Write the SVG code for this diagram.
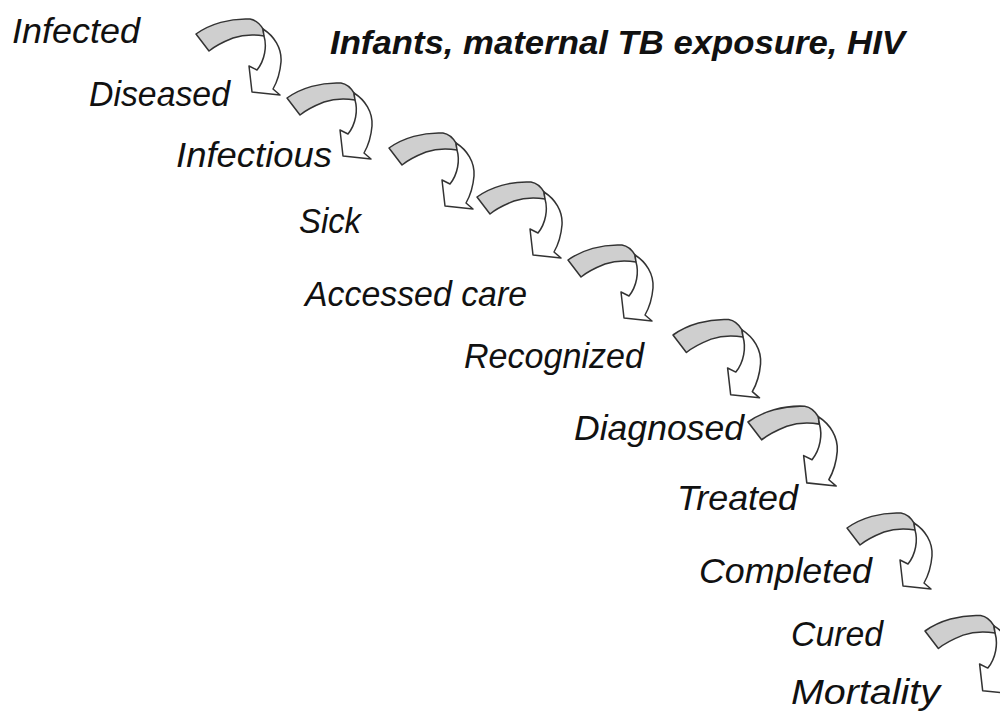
<svg xmlns="http://www.w3.org/2000/svg" xmlns:xlink="http://www.w3.org/1999/xlink" width="1000" height="715" viewBox="0 0 1000 715">
<style>
.lbl{font-family:"Liberation Sans",Arial,sans-serif;font-style:italic;font-size:35px;fill:#111}
.ttl{font-family:"Liberation Sans",Arial,sans-serif;font-style:italic;font-weight:bold;font-size:34px;fill:#111}
.back{fill:#cfcfcf;stroke:#333;stroke-width:1.5;stroke-linejoin:round}
.front{fill:#fff;stroke:#333;stroke-width:1.5;stroke-linejoin:round}
</style>
<defs>
<g id="curved-arrow">
<path class="back" d="M0,0 C14,-10 34,-16 54,-15 C60,-14 64,-10 67,-5 L68,2 C56,0 46,1 37,4 C27,8 19,12 13,17 Z"/>
<path class="front" d="M67,-5 C78,2 86,14 85,28 C84,40 81,48 77,55 L84,61 L56,58 L53,32 L61,36 C69,26 71,12 68,2 Z"/>
</g>
</defs>
<rect width="1000" height="715" fill="#fff"/>
<g id="connectors">
<use id="arrow1" xlink:href="#curved-arrow" transform="translate(196,34)"/>
<use id="arrow2" xlink:href="#curved-arrow" transform="translate(287,98)"/>
<use id="arrow3" xlink:href="#curved-arrow" transform="translate(389,148)"/>
<use id="arrow4" xlink:href="#curved-arrow" transform="translate(477,197)"/>
<use id="arrow5" xlink:href="#curved-arrow" transform="translate(568,260)"/>
<use id="arrow6" xlink:href="#curved-arrow" transform="translate(673,335) scale(1.03)"/>
<use id="arrow7" xlink:href="#curved-arrow" transform="translate(748,422) scale(1.05)"/>
<use id="arrow8" xlink:href="#curved-arrow" transform="translate(847,528)"/>
<use id="arrow9" xlink:href="#curved-arrow" transform="translate(925,631) scale(1.03)"/>
</g>
<g id="title"><text class="ttl" x="330" y="54" textLength="575" lengthAdjust="spacingAndGlyphs">Infants, maternal TB exposure, HIV</text></g>
<g id="infected"><text class="lbl" x="12" y="43" textLength="128" lengthAdjust="spacingAndGlyphs">Infected</text></g>
<g id="diseased"><text class="lbl" x="89" y="106" textLength="141" lengthAdjust="spacingAndGlyphs">Diseased</text></g>
<g id="infectious"><text class="lbl" x="176" y="167" textLength="156" lengthAdjust="spacingAndGlyphs">Infectious</text></g>
<g id="sick"><text class="lbl" x="299" y="233" textLength="62" lengthAdjust="spacingAndGlyphs">Sick</text></g>
<g id="accessed-care"><text class="lbl" x="305" y="306" textLength="222" lengthAdjust="spacingAndGlyphs">Accessed care</text></g>
<g id="recognized"><text class="lbl" x="464" y="368" textLength="180" lengthAdjust="spacingAndGlyphs">Recognized</text></g>
<g id="diagnosed"><text class="lbl" x="574" y="440" textLength="170" lengthAdjust="spacingAndGlyphs">Diagnosed</text></g>
<g id="treated"><text class="lbl" x="677" y="510" textLength="121" lengthAdjust="spacingAndGlyphs">Treated</text></g>
<g id="completed"><text class="lbl" x="699" y="583" textLength="173" lengthAdjust="spacingAndGlyphs">Completed</text></g>
<g id="cured"><text class="lbl" x="791" y="646" textLength="92" lengthAdjust="spacingAndGlyphs">Cured</text></g>
<g id="mortality"><text class="lbl" x="791" y="704" textLength="149" lengthAdjust="spacingAndGlyphs">Mortality</text></g>
</svg>
